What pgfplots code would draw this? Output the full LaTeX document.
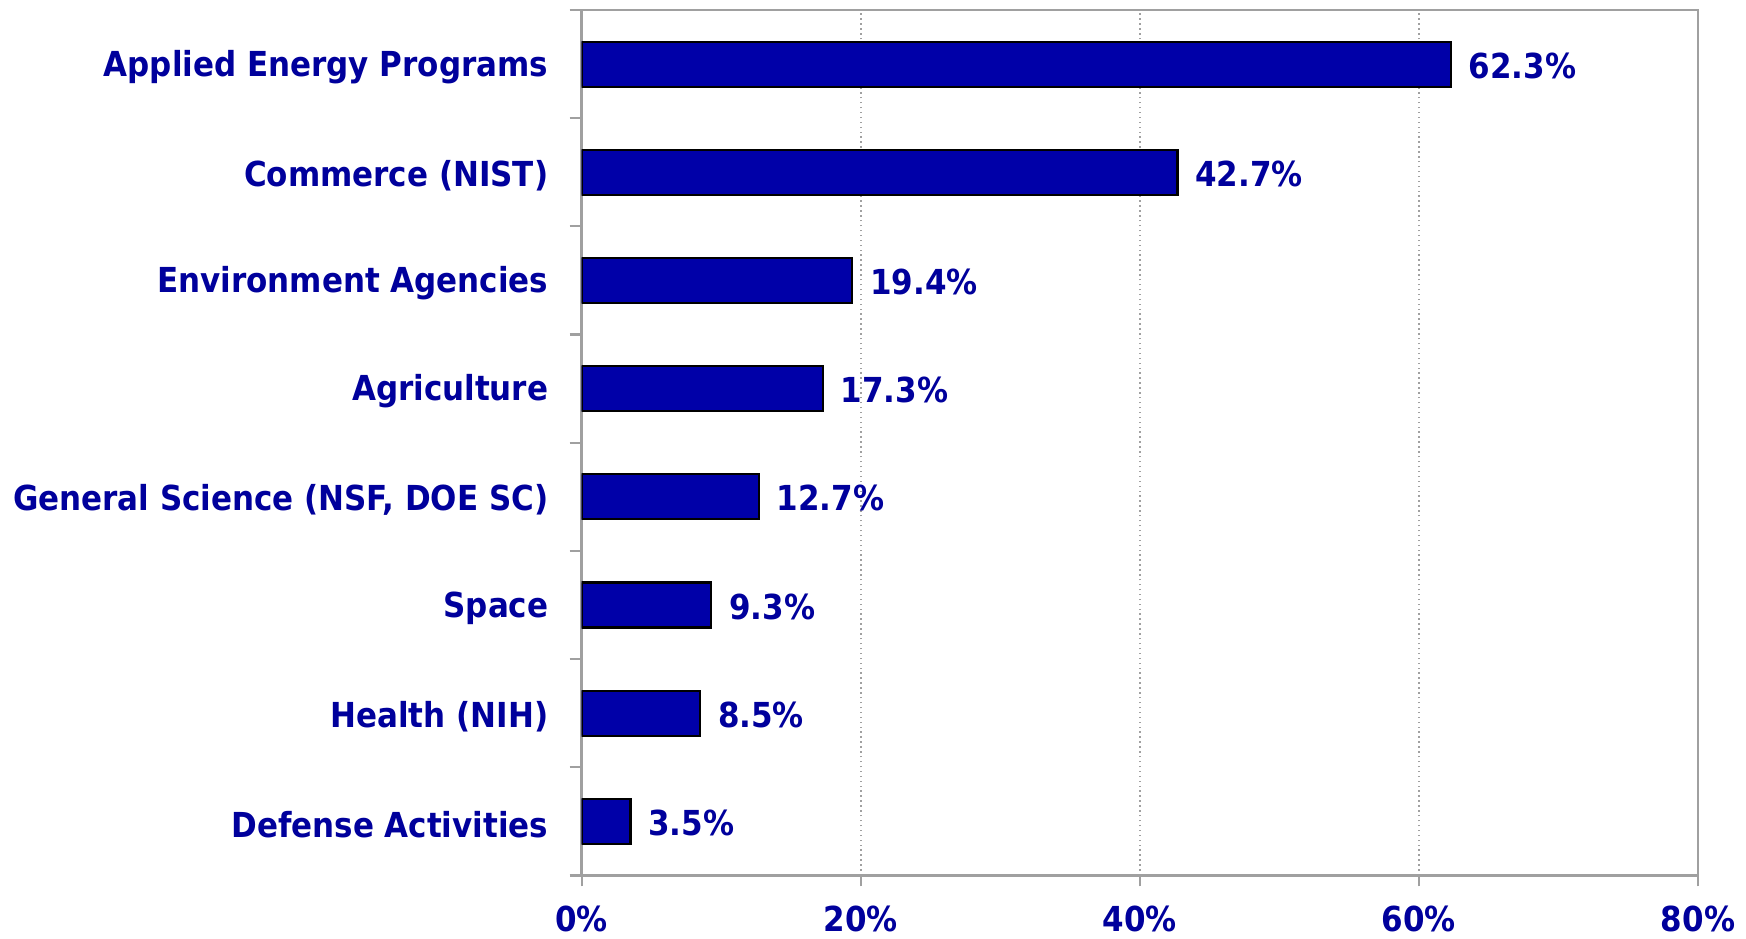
\documentclass[border=0pt]{standalone}
\usepackage{fontspec}
\setmainfont{DejaVu Sans Condensed}
\usepackage{pgfplots}
\pgfplotsset{compat=1.18}
\definecolor{barblue}{HTML}{0000A8}
\definecolor{txtblue}{HTML}{00009C}
\definecolor{axgray}{HTML}{A0A0A0}

\begin{document}
\begin{tikzpicture}
\begin{axis}[
  name=ax,
  xbar,
  scale only axis,
  width=11.17cm, height=8.66cm,
  xmin=0, xmax=80,
  ymin=-0.5, ymax=7.5,
  bar width=0.45cm,
  /pgf/number format/assume math mode=true,
  xtick={0,20,...,80},
  xticklabel={\pgfmathprintnumber{\tick}\%},
  ytick={0,...,7},
  yticklabels={Defense Activities, Health (NIH), Space, {General Science (NSF, DOE SC)}, Agriculture, Environment Agencies, Commerce (NIST), Applied Energy Programs},
  minor ytick={-0.5,0.5,...,7.5},
  major y tick style={draw=none},
  tick align=outside,
  xtick pos=bottom, ytick pos=left,
  major tick length=0.11cm,
  minor tick length=0.12cm,
  tick style={axgray, line width=0.6pt},
  axis line style={axgray, line width=0.8pt},
  xmajorgrids=true,
  grid style={axgray, densely dotted, line width=0.6pt},
  ticklabel style={font=\fontsize{9.8}{12}\selectfont\bfseries, text=txtblue},
  yticklabel style={xshift=-1.0mm, yshift=-0.3mm},
  xticklabel style={yshift=-0.7mm},
  point meta=x,
  nodes near coords={\pgfmathprintnumber[fixed,fixed zerofill,precision=1]{\pgfplotspointmeta}\%},
  every node near coord/.append style={font=\fontsize{9.8}{12}\selectfont\bfseries, text=txtblue, anchor=west, xshift=0.5mm, yshift=-0.15mm},
]
\addplot[fill=barblue, draw=black, line width=0.6pt] coordinates {
  (3.5,0) (8.5,1) (9.3,2) (12.7,3) (17.3,4) (19.4,5) (42.7,6) (62.3,7)
};
\end{axis}
\pgfresetboundingbox
\path ([xshift=-5.82cm,yshift=-0.63cm]ax.south west) rectangle ([xshift=0.48cm,yshift=0.10cm]ax.north east);
\end{tikzpicture}
\end{document}
